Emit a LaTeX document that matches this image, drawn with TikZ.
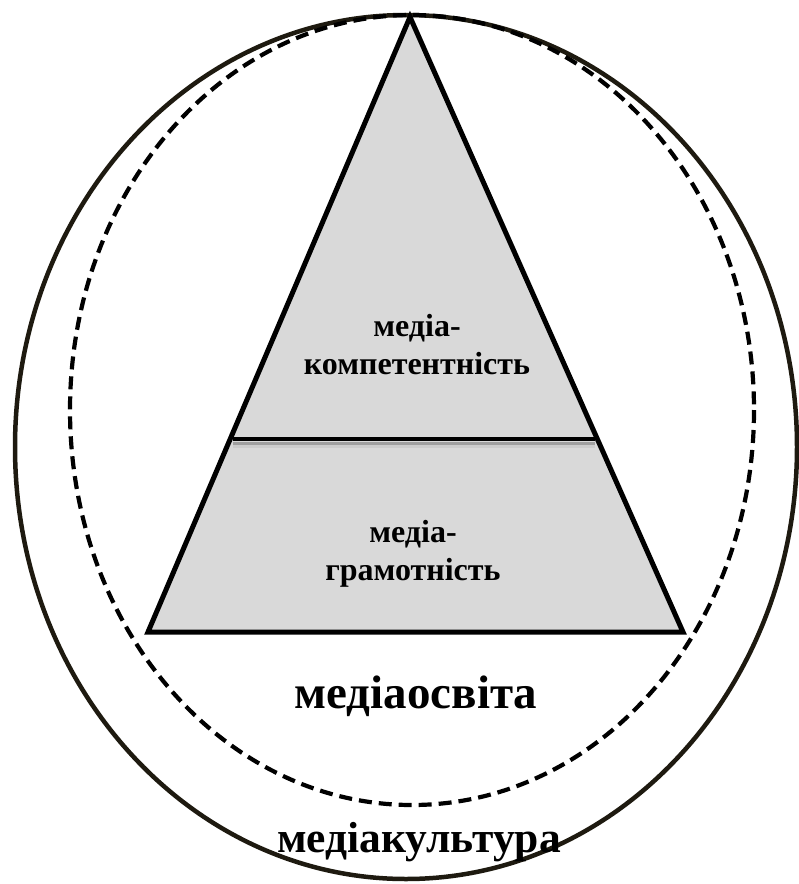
\documentclass[tikz,border=0pt]{standalone}
\usepackage{fontspec}
\setmainfont{Liberation Serif}
\begin{document}
\begin{tikzpicture}[x=1pt,y=-1pt,
  outerline/.style={draw=outercol,line width=4.5pt},
  dashline/.style={draw=black,line width=4.2pt,dash pattern=on 13pt off 7pt},
  tri/.style={draw=black,line width=5pt,fill=trigray,line join=miter},
  lbl/.style={font=\bfseries\fontsize{32}{38}\selectfont,align=center,inner sep=0pt},
  bigA/.style={font=\bfseries\fontsize{47}{52}\selectfont,inner sep=0pt,anchor=base},
  bigB/.style={font=\bfseries\fontsize{43.5}{50}\selectfont,inner sep=0pt,anchor=base}]
\definecolor{outercol}{HTML}{1E1A10}
\definecolor{trigray}{HTML}{D9D9D9}
\useasboundingbox (0,0) rectangle (799,884);
\fill[white] (0,0) rectangle (799,884);
% ellipses
\draw[outerline] (406,447) ellipse [x radius=391, y radius=432];
\draw[dashline] (412,410) ellipse [x radius=342, y radius=395];
% triangle
\coordinate (apex) at (410,17);
\coordinate (bl) at (148,632);
\coordinate (br) at (683,632);
\draw[tri] (apex) -- (br) -- (bl) -- cycle;
% divider with shadow
\coordinate (dl) at (233,439);
\coordinate (dr) at (595,439);
\draw[line width=3pt,gray!75] ([yshift=-4pt]dl) -- ([yshift=-4pt]dr);
\draw[line width=3pt,gray!40] ([yshift=-7pt]dl) -- ([yshift=-7pt]dr);
\draw[line width=4.5pt,black] (dl) -- (dr);
% labels
\node[lbl] (komp) at (417,345) {медіа-\\компетентність};
\node[lbl] (hram) at (413,554) {медіа-\\грамотність};
\node[bigA] (osv) at (416,708) {медіаосвіта};
\node[bigB] (kult) at (419,852) {медіакультура};
\end{tikzpicture}
\end{document}
